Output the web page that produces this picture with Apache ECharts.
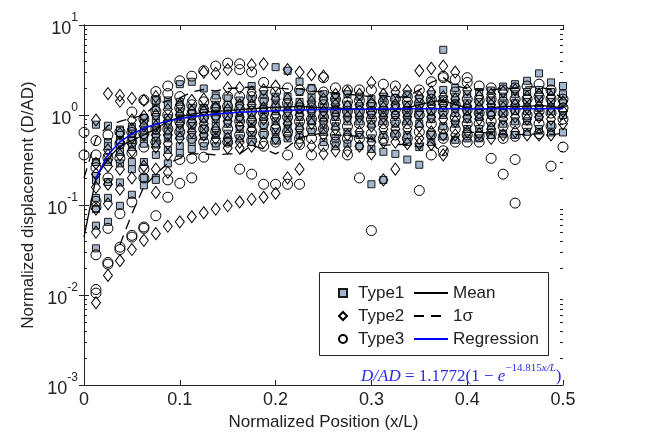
<!DOCTYPE html>
<html>
<head>
<meta charset="utf-8">
<script src="https://cdn.jsdelivr.net/npm/echarts@6/dist/echarts.min.js"></script>
<style>
  html, body { margin: 0; padding: 0; background: #fff; }
  #chart { width: 646px; height: 436px; }
</style>
</head>
<body>
<div id="chart"></div>
<script>
// x positions of the measurement columns (x/L)
const positions = [0, 0.0125, 0.025, 0.0375, 0.05, 0.0625, 0.075, 0.0875, 0.1, 0.1125, 0.125, 0.1375, 0.15, 0.1625, 0.175, 0.1875, 0.2, 0.2125, 0.225, 0.2375, 0.25, 0.2625, 0.275, 0.2875, 0.3, 0.3125, 0.325, 0.3375, 0.35, 0.3625, 0.375, 0.3875, 0.4, 0.4125, 0.425, 0.4375, 0.45, 0.4625, 0.475, 0.4875, 0.5]

// D/AD values per column, one list per x position
const type1 = [
  [],
  [0.78, 0.3, 0.21, 0.187, 0.12, 0.09, 0.059, 0.033],
  [0.76, 0.5, 0.45, 0.3, 0.18, 0.12, 0.065],
  [0.69, 0.6, 0.52, 0.44, 0.39, 0.29, 0.178, 0.098],
  [0.74, 0.62, 0.52, 0.44, 0.3, 0.25, 0.13],
  [0.93, 0.82, 0.67, 0.56, 0.48, 0.3, 0.2, 0.165],
  [1.45, 1.19, 0.95, 0.82, 0.67, 0.56, 0.47, 0.36, 0.2, 0.19],
  [1.45, 1.28, 0.93, 0.8, 0.65, 0.55, 0.41, 0.29],
  [2.2, 1.4, 1.1, 0.9, 0.72, 0.58, 0.45, 0.38],
  [2.34, 1.2, 1.05, 0.9, 0.75, 0.6, 0.5, 0.42],
  [1.97, 1.2, 1.05, 0.9, 0.7, 0.58, 0.45],
  [1.65, 1.3, 1.1, 0.9, 0.75, 0.6, 0.45],
  [1.53, 1.3, 1.1, 0.95, 0.8, 0.62, 0.5],
  [1.45, 1.25, 1.05, 0.9, 0.7, 0.55],
  [2.1, 1.5, 1.2, 1.0, 0.8, 0.6, 0.5],
  [1.7, 1.4, 1.15, 0.95, 0.75, 0.6],
  [3.4, 1.6, 1.3, 1.1, 0.85, 0.65, 0.52],
  [3.1, 1.6, 1.25, 1.05, 0.85, 0.7, 0.55],
  [2.35, 1.8, 1.4, 1.15, 0.95, 0.75, 0.6],
  [2.0, 1.6, 1.3, 1.05, 0.85, 0.65],
  [1.7, 1.45, 1.2, 1.0, 0.8, 0.65, 0.5],
  [1.6, 1.4, 1.15, 0.95, 0.75, 0.55, 0.45],
  [1.7, 1.3, 1.05, 0.85, 0.65, 0.48],
  [1.6, 1.25, 1.05, 0.85, 0.6, 0.45],
  [1.5, 1.25, 1.0, 0.8, 0.55, 0.42, 0.17],
  [1.6, 1.3, 1.05, 0.85, 0.6, 0.39, 0.19],
  [1.55, 1.25, 1.0, 0.8, 0.62, 0.37],
  [1.7, 1.3, 1.05, 0.85, 0.6, 0.5, 0.32],
  [1.5, 1.25, 1.0, 0.8, 0.44, 0.28],
  [1.7, 1.4, 1.1, 0.9, 0.6, 0.5],
  [5.3, 1.9, 1.5, 1.2, 1.0, 0.75, 0.58],
  [2.0, 1.6, 1.3, 1.05, 0.8, 0.53],
  [1.7, 1.35, 1.1, 0.9, 0.7, 0.55],
  [1.8, 1.4, 1.15, 0.95, 0.7, 0.55],
  [1.87, 1.45, 1.2, 1.0, 0.75, 0.6],
  [2.07, 1.6, 1.3, 1.05, 0.8, 0.62],
  [2.2, 1.7, 1.35, 1.1, 0.85, 0.6],
  [2.4, 1.8, 1.4, 1.1, 0.85, 0.65],
  [2.9, 1.9, 1.5, 1.2, 0.95, 0.7],
  [2.3, 1.8, 1.4, 1.1, 0.78, 0.64],
  [2.1, 1.7, 1.35, 1.0, 0.64]
]

const type2 = [
  [],
  [0.88, 0.29, 0.22, 0.157, 0.09, 0.05, 0.0082],
  [1.73, 0.41, 0.36, 0.27, 0.17, 0.103, 0.0165],
  [1.65, 1.42, 0.62, 0.5, 0.36, 0.25, 0.15, 0.024],
  [1.53, 0.88, 0.7, 0.56, 0.4, 0.2, 0.032],
  [1.45, 0.97, 0.75, 0.6, 0.27, 0.0405],
  [1.6, 1.0, 0.75, 0.6, 0.44, 0.25, 0.138, 0.048],
  [1.15, 0.85, 0.6, 0.48, 0.36, 0.23, 0.058],
  [1.3, 1.0, 0.8, 0.55, 0.065],
  [1.45, 1.1, 0.85, 0.65, 0.074],
  [3.0, 1.5, 1.1, 0.8, 0.6, 0.082],
  [2.9, 1.2, 0.95, 0.7, 0.55, 0.09],
  [3.2, 2.0, 1.15, 0.85, 0.55, 0.43, 0.098],
  [2.0, 1.3, 0.95, 0.75, 0.5, 0.43, 0.108],
  [3.6, 1.8, 1.3, 0.9, 0.7, 0.45, 0.116],
  [3.7, 1.9, 1.2, 0.9, 0.5, 0.122],
  [2.1, 1.5, 1.0, 0.75, 0.55, 0.135],
  [3.2, 1.5, 1.1, 0.8, 0.6, 0.2],
  [3.0, 1.3, 1.0, 0.7, 0.5, 0.25],
  [2.8, 1.4, 1.1, 0.8, 0.45],
  [2.7, 1.5, 1.1, 0.85, 0.6, 0.37],
  [1.7, 1.3, 1.0, 0.7, 0.4],
  [1.8, 1.25, 0.95, 0.6, 0.4],
  [1.7, 1.3, 0.95, 0.65, 0.45],
  [2.3, 1.35, 1.05, 0.75, 0.5, 0.37],
  [1.7, 1.2, 0.95, 0.7, 0.5, 0.19],
  [1.8, 1.3, 1.0, 0.7, 0.5, 0.25],
  [1.87, 1.2, 0.95, 0.7, 0.48],
  [3.1, 1.6, 1.1, 0.75, 0.55, 0.48],
  [3.3, 1.8, 1.3, 0.95, 0.65, 0.47],
  [3.5, 1.6, 1.3, 0.9, 0.6, 0.36],
  [3.0, 1.5, 1.2, 0.85, 0.6],
  [1.9, 1.25, 0.95, 0.65],
  [1.6, 1.2, 0.9, 0.62],
  [1.7, 1.3, 1.0, 0.7, 0.55],
  [1.8, 1.2, 0.9, 0.6],
  [1.9, 1.3, 0.95, 0.65],
  [1.6, 1.2, 0.9, 0.6],
  [1.7, 1.25, 0.95, 0.6],
  [1.6, 1.2, 0.9, 0.6],
  [1.4, 1.1, 0.8]
]

const type3 = [
  [0.64, 0.36],
  [0.52, 0.36, 0.26, 0.11, 0.095, 0.028, 0.0115, 0.0105],
  [0.6, 0.33, 0.2, 0.055, 0.023, 0.022],
  [0.65, 0.48, 0.33, 0.08, 0.034, 0.032],
  [1.08, 0.64, 0.5, 0.38, 0.108, 0.046, 0.044],
  [1.47, 0.9, 0.62, 0.44, 0.25, 0.2, 0.057, 0.055],
  [1.82, 1.45, 1.1, 0.7, 0.5, 0.076],
  [2.1, 1.73, 1.0, 0.7, 0.19, 0.122],
  [2.4, 1.6, 1.2, 0.85, 0.65, 0.32, 0.174],
  [2.7, 1.3, 1.0, 0.8, 0.55, 0.33, 0.2],
  [3.1, 1.4, 1.15, 0.95, 0.7, 0.5, 0.34],
  [3.5, 1.5, 1.2, 1.0, 0.65, 0.5],
  [3.77, 1.6, 1.25, 1.0, 0.7, 0.5],
  [3.7, 3.2, 1.6, 1.15, 0.85, 0.6, 0.25],
  [3.0, 1.6, 1.1, 0.85, 0.65, 0.52, 0.22],
  [2.3, 1.5, 1.05, 0.8, 0.62, 0.45, 0.17],
  [1.8, 1.2, 0.95, 0.7, 0.5, 0.17],
  [2.0, 1.35, 0.95, 0.65, 0.36, 0.17],
  [1.9, 1.2, 0.85, 0.55, 0.47, 0.17],
  [1.9, 1.2, 0.9, 0.7, 0.55, 0.36],
  [2.6, 1.8, 1.3, 0.95, 0.7, 0.45],
  [2.0, 1.5, 1.1, 0.85, 0.6, 0.5],
  [1.9, 1.4, 1.1, 0.75, 0.55, 0.36],
  [1.9, 1.45, 1.1, 0.8, 0.55, 0.2],
  [1.9, 1.3, 1.1, 0.9, 0.62, 0.052],
  [2.2, 1.4, 1.1, 0.8, 0.55],
  [2.1, 1.5, 1.15, 0.85, 0.6],
  [1.6, 1.4, 1.1, 0.8, 0.55],
  [1.9, 1.35, 1.0, 0.65, 0.145],
  [2.34, 1.5, 1.15, 0.8, 0.6, 0.36],
  [2.7, 2.6, 1.4, 1.1, 0.7, 0.55, 0.4],
  [2.5, 1.8, 1.3, 0.95, 0.7, 0.5],
  [2.6, 2.3, 1.5, 1.15, 0.8, 0.6, 0.5],
  [2.1, 1.45, 1.05, 0.8, 0.58, 0.5],
  [2.0, 1.5, 1.1, 0.85, 0.62, 0.33],
  [1.9, 1.4, 1.05, 0.75, 0.55, 0.22],
  [2.0, 1.5, 1.15, 0.8, 0.58, 0.32, 0.105],
  [2.1, 1.5, 1.0, 0.75, 0.0048],
  [2.2, 1.6, 1.1, 0.8, 0.62],
  [1.9, 1.5, 1.05, 0.75, 0.27],
  [1.5, 1.2, 0.9, 0.44]
]

// statistics per column
const meanVals = [0.044, 0.2, 0.33, 0.45, 0.52, 0.6, 0.7, 0.85, 0.95, 1.02, 1.07, 1.1, 1.12, 1.15, 1.18, 1.2, 1.22, 1.23, 1.25, 1.22, 1.2, 1.2, 1.18, 1.16, 1.15, 1.15, 1.15, 1.2, 1.3, 1.4, 1.45, 1.3, 1.2, 1.15, 1.2, 1.25, 1.25, 1.25, 1.28, 1.25, 1.2]
const sigmaUpper = [0.2, 0.55, 0.76, 0.85, 0.92, 1.0, 1.3, 1.45, 1.55, 1.8, 1.92, 1.85, 1.97, 2.0, 2.05, 2.05, 2.0, 1.95, 1.95, 1.85, 1.8, 1.75, 1.7, 1.65, 1.6, 1.65, 1.57, 1.6, 1.9, 2.3, 2.6, 2.1, 1.97, 1.9, 1.9, 1.97, 1.97, 2.05, 2.05, 1.9, 1.5]
const sigmaLower = [null, null, null, 0.036, 0.08, 0.16, 0.22, 0.29, 0.33, 0.37, 0.37, 0.36, 0.37, 0.37, 0.46, 0.42, 0.37, 0.44, 0.56, 0.6, 0.63, 0.6, 0.59, 0.58, 0.54, 0.46, 0.47, 0.47, 0.44, 0.5, 0.36, 0.6, 0.64, 0.64, 0.63, 0.6, 0.61, 0.61, 0.62, 0.61, 0.62]
const regression = [null, 0.199, 0.364, 0.502, 0.616, 0.711, 0.790, 0.855, 0.910, 0.955, 0.993, 1.024, 1.050, 1.071, 1.089, 1.104, 1.116, 1.127, 1.135, 1.142, 1.148, 1.153, 1.157, 1.160, 1.163, 1.166, 1.168, 1.170, 1.171, 1.172, 1.173, 1.174, 1.175, 1.175, 1.176, 1.176, 1.176, 1.177, 1.177, 1.177, 1.177]

// minor log ticks (2..9 x 10^n)
const minorTickValues = [0.002, 0.003, 0.004, 0.005, 0.006, 0.007, 0.008, 0.009,
  0.02, 0.03, 0.04, 0.05, 0.06, 0.07, 0.08, 0.09,
  0.2, 0.3, 0.4, 0.5, 0.6, 0.7, 0.8, 0.9,
  2, 3, 4, 5, 6, 7, 8, 9]

const FONT = 'Liberation Sans, Arial, sans-serif'
const INK = '#222'
const EQ_BLUE = '#2a2af0'

let toPoints = cols => cols.flatMap((vals, k) => vals.map(v => [positions[k], v]))
let toLine = vals => vals.map((v, k) => [positions[k], v])

var chart = echarts.init(document.getElementById('chart'))

var axisLineStyle = { lineStyle: { color: INK, width: 1 } }

var option = {
  animation: false,
  backgroundColor: '#fff',
  grid: { left: 84, right: 83, top: 25, bottom: 43, containLabel: false },
  xAxis: [
    {
      type: 'value', min: 0, max: 0.5, interval: 0.1,
      name: 'Normalized Position (x/L)', nameLocation: 'middle', nameGap: 29,
      nameTextStyle: { fontFamily: FONT, fontSize: 17, color: INK },
      axisLine: axisLineStyle,
      axisTick: { inside: true, length: 5, lineStyle: { color: INK } },
      axisLabel: { fontFamily: FONT, fontSize: 18, color: INK, margin: 6 },
      splitLine: { show: false }
    },
    {
      type: 'value', min: 0, max: 0.5, interval: 0.1, position: 'top',
      axisLine: axisLineStyle,
      axisTick: { inside: true, length: 5, lineStyle: { color: INK } },
      axisLabel: { show: false },
      splitLine: { show: false }
    }
  ],
  yAxis: [
    {
      type: 'log', logBase: 10, min: 0.001, max: 10,
      name: 'Normalized displacement (D/AD)', nameLocation: 'middle', nameGap: 45,
      nameTextStyle: { fontFamily: FONT, fontSize: 17, color: INK },
      axisLine: axisLineStyle,
      axisTick: { inside: true, length: 5, lineStyle: { color: INK } },
      axisLabel: {
        margin: 6,
        formatter: v => '{b|10}{e|' + Math.round(Math.log10(v)) + '}',
        rich: {
          b: { fontFamily: FONT, fontSize: 18, color: INK, verticalAlign: 'bottom', lineHeight: 26 },
          e: { fontFamily: FONT, fontSize: 12, color: INK, verticalAlign: 'top', lineHeight: 26 }
        }
      },
      splitLine: { show: false }
    },
    {
      type: 'log', logBase: 10, min: 0.001, max: 10, position: 'right',
      axisLine: axisLineStyle,
      axisTick: { inside: true, length: 5, lineStyle: { color: INK } },
      axisLabel: { show: false },
      splitLine: { show: false }
    }
  ],
  legend: [
    {
      data: ['Type1', 'Type2', 'Type3'],
      orient: 'vertical', left: 338, top: 284, padding: 0,
      itemWidth: 8, itemHeight: 8, itemGap: 5,
      textStyle: { fontFamily: FONT, fontSize: 17, color: INK, lineHeight: 18, padding: [0, 0, 0, 6] },
      selectedMode: false
    },
    {
      data: ['Mean', '1σ', 'Regression'],
      orient: 'vertical', left: 413, top: 284, padding: 0,
      itemWidth: 34, itemHeight: 12, itemGap: 5,
      itemStyle: { opacity: 0 },
      textStyle: { fontFamily: FONT, fontSize: 17, color: INK, lineHeight: 18 },
      selectedMode: false
    }
  ],
  graphic: [
    {
      type: 'rect', left: 319, top: 272, z: 3,
      shape: { width: 229, height: 83 },
      style: { fill: '#fff', stroke: INK, lineWidth: 1 }
    },
    {
      type: 'text', left: 361, top: 363, z: 3,
      style: {
        text: '{i|D/AD}{r| = 1.1772(1 − }{i|e}{s|−14.815}{si|x/L}{r|)}',
        rich: {
          i: { fontFamily: 'Liberation Serif', fontStyle: 'italic', fontSize: 17, fill: EQ_BLUE, verticalAlign: 'bottom', lineHeight: 22 },
          r: { fontFamily: 'Liberation Serif', fontSize: 17, fill: EQ_BLUE, verticalAlign: 'bottom', lineHeight: 22 },
          s: { fontFamily: 'Liberation Serif', fontSize: 11, fill: EQ_BLUE, verticalAlign: 'top', lineHeight: 22 },
          si: { fontFamily: 'Liberation Serif', fontStyle: 'italic', fontSize: 11, fill: EQ_BLUE, verticalAlign: 'top', lineHeight: 22 }
        }
      }
    }
  ],
  series: [
    {
      name: 'minor', type: 'custom', xAxisIndex: 0, yAxisIndex: 0, silent: true, z: 1,
      data: minorTickValues.map(v => [0, v]),
      renderItem: (params, api) => {
        var p = api.coord([0, api.value(1)])
        var cs = params.coordSys
        var y = Math.round(p[1]) + 0.5
        return {
          type: 'group',
          children: [
            { type: 'line', shape: { x1: cs.x, y1: y, x2: cs.x + 3, y2: y }, style: { stroke: INK, lineWidth: 1 } },
            { type: 'line', shape: { x1: cs.x + cs.width, y1: y, x2: cs.x + cs.width - 3, y2: y }, style: { stroke: INK, lineWidth: 1 } }
          ]
        }
      }
    },
    {
      name: 'Type1', type: 'scatter', symbol: 'rect', symbolSize: 7, z: 2,
      data: toPoints(type1),
      itemStyle: { color: '#a3b6cc', borderColor: '#1a1a1a', borderWidth: 1, opacity: 1 }
    },
    {
      name: 'Type2', type: 'scatter', symbol: 'diamond', symbolSize: [9, 12], z: 2,
      data: toPoints(type2),
      itemStyle: { color: 'rgba(255,255,255,0)', borderColor: '#000', borderWidth: 1, opacity: 1 }
    },
    {
      name: 'Type3', type: 'scatter', symbol: 'circle', symbolSize: 10, z: 2,
      data: toPoints(type3),
      itemStyle: { color: 'rgba(255,255,255,0)', borderColor: '#000', borderWidth: 1, opacity: 1 }
    },
    {
      name: 'Mean', type: 'line', symbol: 'none', z: 3,
      data: toLine(meanVals),
      lineStyle: { color: '#000', width: 1.3 },
      itemStyle: { color: '#000' }
    },
    {
      name: '1σ', type: 'line', symbol: 'none', z: 3,
      data: toLine(sigmaUpper),
      lineStyle: { color: '#000', width: 1.3, type: [10, 7] },
      itemStyle: { color: '#000' }
    },
    {
      name: '1σ', type: 'line', symbol: 'none', z: 3,
      data: toLine(sigmaLower),
      lineStyle: { color: '#000', width: 1.3, type: [10, 7] },
      itemStyle: { color: '#000' }
    },
    {
      name: 'Regression', type: 'line', symbol: 'none', z: 3,
      data: toLine(regression),
      lineStyle: { color: '#0000ff', width: 1.5 },
      itemStyle: { color: '#0000ff' }
    }
  ]
}

chart.setOption(option)
</script>
</body>
</html>
